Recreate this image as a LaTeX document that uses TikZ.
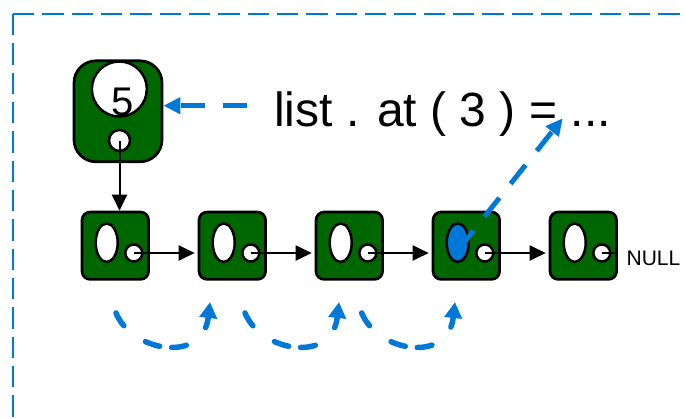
\documentclass[tikz,border=0pt]{standalone}
\usepackage{fontspec}
\setmainfont{Liberation Sans}
\usetikzlibrary{arrows.meta,shapes.geometric,calc}
\definecolor{nodegreen}{RGB}{0,102,0}
\definecolor{callblue}{RGB}{0,120,215}

\begin{document}
\begin{tikzpicture}[x=1bp,y=-1bp,
  headbox/.style={draw=black,line width=2.7bp,fill=nodegreen,rounded corners=22bp,
    minimum width=88bp,minimum height=101bp,inner sep=0},
  headval/.style={circle,draw=black,line width=2.5bp,fill=white,minimum size=55bp,inner sep=0},
  cell/.style={draw=black,line width=2.7bp,fill=nodegreen,rounded corners=8bp,
    minimum width=66.5bp,minimum height=67.3bp,inner sep=0},
  slot/.style={ellipse,draw=black,line width=2.5bp,minimum width=22bp,minimum height=38.5bp,inner sep=0},
  ptr/.style={circle,draw=black,line width=2.5bp,fill=white,minimum size=17bp,inner sep=0},
  link/.style={draw=black,line width=2bp,-{Triangle[length=16bp,width=15bp]}},
  hop/.style={draw=callblue,line width=5.5bp,line cap=round,
    dash pattern=on 15bp off 27bp on 15bp off 12bp,-{Triangle[length=16bp,width=17bp]}},
  jump/.style={draw=callblue,line width=5bp,dash pattern=on 24bp off 18bp,
    -{Triangle[length=17bp,width=16bp]}},
  frame/.style={draw=callblue,line width=2.5bp,dash pattern=on 21.3bp off 8.03bp},
  label/.style={inner sep=0,text=black}
]
\clip (0,0) rectangle (686,418);
\useasboundingbox (0,0) rectangle (686,418);

% dashed frame, open to the right and bottom
\coordinate (corner) at (13,14);
\draw[frame] (corner) -- (13,440);
\draw[frame] (corner) -- (700,14);

% head node holding the value 5
\node[headbox] (head) at (118,111.3) {};
\node[headval] (hv) at (119.35,89) {};
\node[label,font=\fontsize{40bp}{40bp}\selectfont,anchor=base] (five) at (122.4,115) {5};
\node[ptr,minimum size=21bp] (hp) at (119.5,140.5) {};

% list cells
\foreach \i/\x/\c in {1/115.3/white,2/232.3/white,3/349.3/white,4/466.3/callblue,5/583.3/white} {
  \node[cell] (n\i) at (\x,245.7) {};
  \node[slot,fill=\c] (e\i) at (\x-8.6,242.7) {};
  \node[ptr] (p\i) at (\x+18.5,253) {};
}

% next pointers
\draw[link] (hp.center) -- (hp.center |- n1.north);
\foreach \i/\j in {1/2,2/3,3/4,4/5}
  \draw[link,shorten >=3bp] (p\i.center) -- (n\j.west |- p\i.center);
\draw[black,line width=2bp,shorten >=3bp] (p5.center) -- (p5.center -| n5.east);
\node[label,font=\fontsize{21bp}{21bp}\selectfont,anchor=base west] (null) at (626.4,265) {NULL};

% the call
\node[label,font=\fontsize{48bp}{48bp}\selectfont,anchor=base west] (call) at (274,126.5) {list . at ( 3 ) = ...};
\coordinate (callL) at (247.3,105.7);
\coordinate (dots) at (562.7,118.3);
\draw[jump] (callL) -- (head.east |- callL);
\draw[jump] ($(e4.center)+(0.6,6.8)$) -- (dots);

% traversal hops
\foreach \k/\s/\e in {1/116/210,2/245/339,3/361.7/455} {
  \coordinate (hs\k) at (\s,313);
  \coordinate (he\k) at (\e,302);
  \draw[hop] (hs\k) .. controls +(16,39) and +(-7,62) .. (he\k);
}
\end{tikzpicture}
\end{document}
